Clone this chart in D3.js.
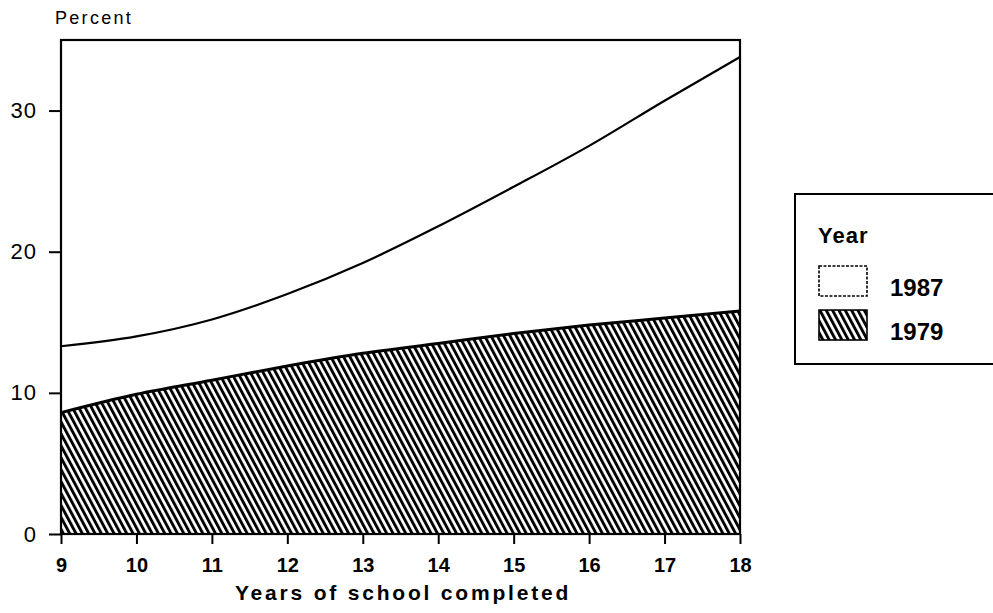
<!DOCTYPE html>
<html>
<head>
<meta charset="utf-8">
<script src="https://cdn.jsdelivr.net/npm/d3@7"></script>
<style>
  body { margin: 0; background: #fff; }
  svg { display: block; font-family: "Liberation Sans", Arial, sans-serif; }
</style>
</head>
<body>
<div id="chart"></div>
<script>
// data
const years = [9, 10, 11, 12, 13, 14, 15, 16, 17, 18];
const pct1987 = [13.3, 14.0, 15.2, 17.0, 19.2, 21.8, 24.6, 27.5, 30.7, 33.8];
const pct1979 = [8.6, 9.9, 10.9, 11.9, 12.8, 13.5, 14.2, 14.8, 15.3, 15.8];
const yTicks = [0, 10, 20, 30];
const legendItems = ["1987", "1979"];

const width = 993, height = 613;
const svg = d3.select("#chart").append("svg")
  .attr("width", width).attr("height", height);

// hatch pattern for 1979
const defs = svg.append("defs");
defs.append("pattern")
  .attr("id", "hatch")
  .attr("patternUnits", "userSpaceOnUse")
  .attr("width", 5.6).attr("height", 10)
  .attr("patternTransform", "rotate(-28)")
  .append("rect")
  .attr("x", 0).attr("y", 0)
  .attr("width", 2.9).attr("height", 10)
  .attr("fill", "#000");

const x = d3.scaleLinear().domain([9, 18]).range([61, 740]);
const y = d3.scaleLinear().domain([0, 35]).range([534, 40]);

const rows1979 = years.map((yr, i) => ({ yr, v: pct1979[i] }));
const rows1987 = years.map((yr, i) => ({ yr, v: pct1987[i] }));

// 1979 hatched area
svg.append("path")
  .datum(rows1979)
  .attr("fill", "url(#hatch)")
  .attr("d", d3.area().x(d => x(d.yr)).y0(y(0)).y1(d => y(d.v)).curve(d3.curveMonotoneX));

svg.append("path")
  .datum(rows1979)
  .attr("fill", "none").attr("stroke", "#000").attr("stroke-width", 3)
  .attr("d", d3.line().x(d => x(d.yr)).y(d => y(d.v)).curve(d3.curveMonotoneX));

// 1987 line
svg.append("path")
  .datum(rows1987)
  .attr("fill", "none").attr("stroke", "#000").attr("stroke-width", 2.2)
  .attr("d", d3.line().x(d => x(d.yr)).y(d => y(d.v)).curve(d3.curveMonotoneX));

// frame
svg.append("rect")
  .attr("x", x(9)).attr("y", y(35))
  .attr("width", x(18) - x(9)).attr("height", y(0) - y(35))
  .attr("fill", "none").attr("stroke", "#000").attr("stroke-width", 2.2);

// y axis
const yAxis = svg.append("g")
  .attr("transform", `translate(${x(9)},0)`)
  .call(d3.axisLeft(y).tickValues(yTicks).tickSize(12).tickPadding(12).tickFormat(d3.format("d")));
yAxis.select(".domain").remove();
yAxis.selectAll("line").attr("stroke-width", 2);
yAxis.selectAll("text")
  .attr("font-size", 22).attr("font-family", "Liberation Sans, Arial, sans-serif")
  .attr("fill", "#000").attr("letter-spacing", 1);

// x axis
const xAxis = svg.append("g")
  .attr("transform", `translate(0,${y(0)})`)
  .call(d3.axisBottom(x).tickValues(years).tickSize(10).tickPadding(14).tickFormat(d3.format("d")));
xAxis.select(".domain").remove();
xAxis.selectAll("line").attr("stroke-width", 2);
xAxis.selectAll("text")
  .attr("font-size", 20).attr("font-weight", "bold")
  .attr("font-family", "Liberation Sans, Arial, sans-serif").attr("fill", "#000");

// titles
svg.append("text")
  .attr("x", 55).attr("y", 24)
  .attr("font-size", 18).attr("letter-spacing", 2.3)
  .text("Percent");

svg.append("text")
  .attr("x", 403).attr("y", 600)
  .attr("text-anchor", "middle")
  .attr("font-size", 21).attr("font-weight", "bold").attr("letter-spacing", 2.8)
  .text("Years of school completed");

// legend
const legend = svg.append("g");
legend.append("rect")
  .attr("x", 795).attr("y", 194)
  .attr("width", 210).attr("height", 170)
  .attr("fill", "#fff").attr("stroke", "#000").attr("stroke-width", 2);

legend.append("text")
  .attr("x", 818).attr("y", 243)
  .attr("font-size", 22).attr("font-weight", "bold").attr("letter-spacing", 1)
  .text("Year");

const ly = d3.scaleBand().domain(legendItems).range([266, 340]).paddingInner(0.32);
legend.selectAll(".sw")
  .data(legendItems)
  .enter().append("rect")
  .attr("class", "sw")
  .attr("x", 819).attr("y", d => ly(d))
  .attr("width", 48).attr("height", ly.bandwidth())
  .attr("fill", d => d === "1979" ? "url(#hatch)" : "#fff")
  .attr("stroke", "#000").attr("stroke-width", 1.6)
  .attr("stroke-dasharray", d => d === "1987" ? "3,1.5" : null);

legend.selectAll(".lab")
  .data(legendItems)
  .enter().append("text")
  .attr("class", "lab")
  .attr("x", 890).attr("y", d => ly(d) + ly.bandwidth())
  .attr("font-size", 24).attr("font-weight", "bold")
  .text(d => d);
</script>
</body>
</html>
